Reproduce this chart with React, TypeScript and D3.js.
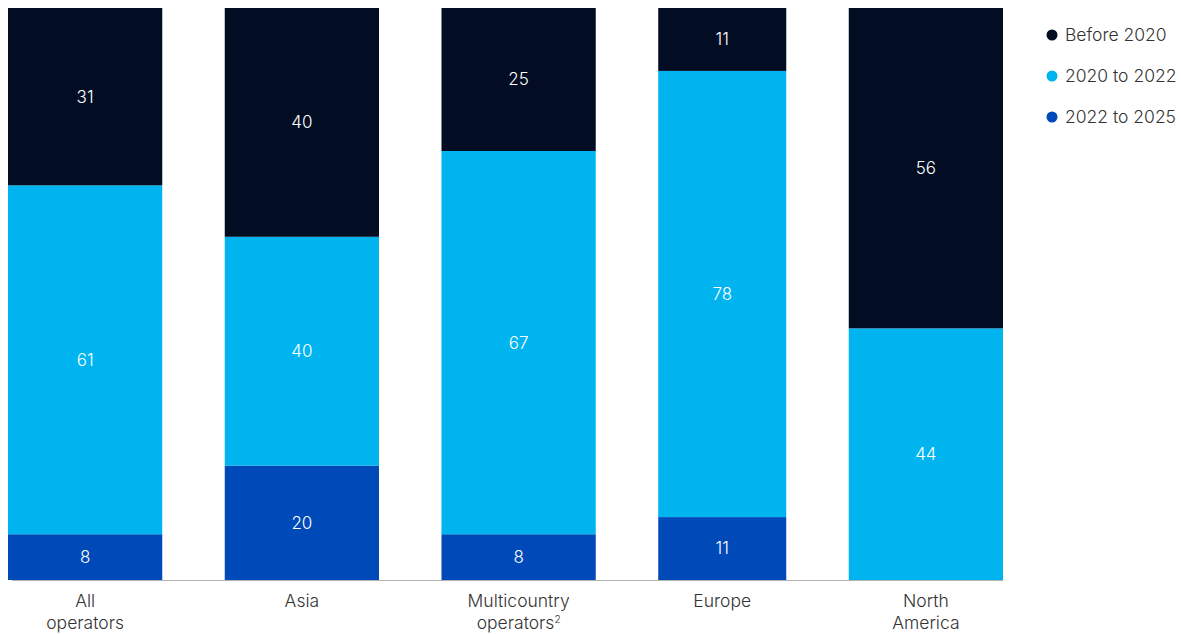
import React from "react";
import * as d3 from "d3";

const categories = [["All", "operators"], ["Asia"], ["Multicountry", "operators²"], ["Europe"], ["North", "America"]];
const seriesNames = ["Before 2020", "2020 to 2022", "2022 to 2025"];
const before2020 = [31, 40, 25, 11, 56];
const y2020to2022 = [61, 40, 67, 78, 44];
const y2022to2025 = [8, 20, 8, 11, 0];
const widthFactor = [1, 1, 1, 0.83, 1];

const colors = ["#020d24", "#00b4ef", "#0049b9"];

const W = 1181;
const H = 634;
const left = 8;
const right = 1003;
const top = 8;
const bottom = 580;
const gap = 62.5;

export default function App() {
  const series = [before2020, y2020to2022, y2022to2025];
  const y = d3.scaleLinear().domain([0, 100]).range([bottom, top]);
  const totalFactor = d3.sum(widthFactor);
  const unit = (right - left - gap * (categories.length - 1)) / totalFactor;
  const xs: number[] = [];
  let acc = left;
  widthFactor.forEach((f) => {
    xs.push(acc);
    acc += f * unit + gap;
  });

  const font = "Inter, Roboto, 'Noto Sans', sans-serif";

  return (
    <svg width={W} height={H} style={{ position: "absolute", left: 0, top: 0 }} fontFamily={font}>
      {categories.map((cat, i) => {
        const x0 = xs[i];
        const w = widthFactor[i] * unit;
        const order = [2, 1, 0];
        let base = 0;
        const segs = order.map((s) => {
          const v = series[s][i];
          const seg = { s, v, y0: base, y1: base + v };
          base += v;
          return seg;
        });
        return (
          <g key={i}>
            {segs.map((sg) =>
              sg.v > 0 ? (
                <g key={sg.s}>
                  <rect
                    x={x0}
                    y={y(sg.y1)}
                    width={w}
                    height={y(sg.y0) - y(sg.y1)}
                    fill={colors[sg.s]}
                  />
                  <text
                    x={x0 + w / 2}
                    y={(y(sg.y0) + y(sg.y1)) / 2}
                    dy="0.35em"
                    textAnchor="middle"
                    fill="#ffffff"
                    fontSize={17}
                    fontWeight={300}
                  >
                    {sg.v}
                  </text>
                </g>
              ) : null
            )}
            {cat.map((line, li) => {
              const sup = line.endsWith("²");
              return (
                <text
                  key={li}
                  x={x0 + w / 2}
                  y={601 + li * 22}
                  dy="0.35em"
                  textAnchor="middle"
                  fill="#333333"
                  fontSize={17.5}
                  fontWeight={300}
                >
                  {sup ? line.slice(0, -1) : line}
                  {sup ? (
                    <tspan fontSize={10} dy="-0.6em">
                      2
                    </tspan>
                  ) : null}
                </text>
              );
            })}
          </g>
        );
      })}
      <line x1={12} x2={right} y1={bottom + 0.5} y2={bottom + 0.5} stroke="#b3b3b3" strokeWidth={1} />
      {seriesNames.map((name, i) => (
        <g key={name} transform={`translate(1052, ${35 + i * 41})`}>
          <circle r={5.5} fill={colors[i]} />
          <text x={13} dy="0.35em" fontSize={17.5} fontWeight={300} fill="#333333">
            {name}
          </text>
        </g>
      ))}
    </svg>
  );
}
